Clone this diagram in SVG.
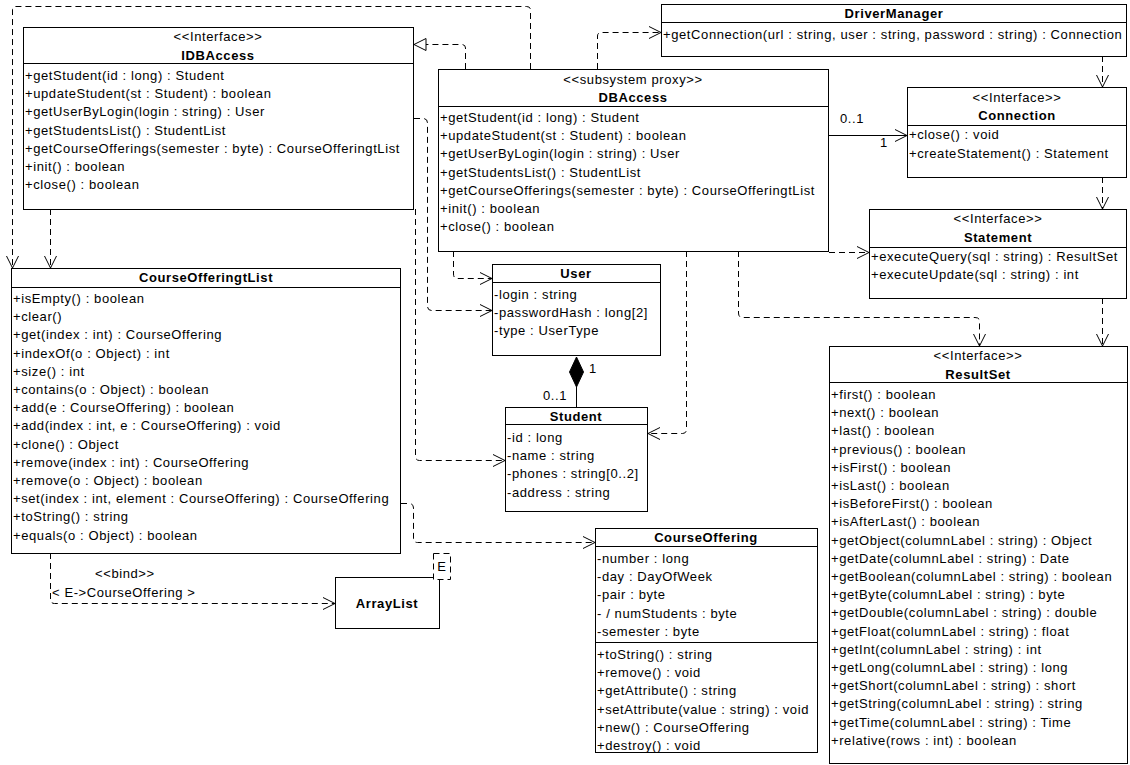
<svg xmlns="http://www.w3.org/2000/svg" width="1130" height="765" viewBox="0 0 1130 765">
<defs>
<style>
text{font-family:"Liberation Sans",Arial,sans-serif;font-size:13px;letter-spacing:0.6px;fill:#000}
.st{text-anchor:middle}
.nm{font-weight:bold;text-anchor:middle}
.box{fill:#fff;stroke:#000;stroke-width:1}
.div{stroke:#000;stroke-width:1}
.dep{fill:none;stroke:#000;stroke-width:1;stroke-dasharray:6,4}
.sol{fill:none;stroke:#000;stroke-width:1}
</style>
<marker id="open" markerUnits="userSpaceOnUse" markerWidth="16" markerHeight="16" refX="13" refY="7" orient="auto">
<path d="M1,1 L13,7 L1,13" fill="none" stroke="#000" stroke-width="1"/>
</marker>
<marker id="tri" markerUnits="userSpaceOnUse" markerWidth="16" markerHeight="16" refX="13" refY="7" orient="auto">
<path d="M1,1 L13,7 L1,13 Z" fill="#fff" stroke="#000" stroke-width="1"/>
</marker>
</defs>
<rect width="1130" height="765" fill="#fff"/>

<g id="connectors">
<path class="dep" d="M465.5,69 V48 Q465.5,44.5 461.5,44.5 H414" marker-end="url(#tri)"/>
<path class="dep" d="M530.5,69 V10 Q530.5,6.5 526.5,6.5 H16 Q12.5,6.5 12.5,10 V268" marker-end="url(#open)"/>
<path class="dep" d="M50.5,209 V268" marker-end="url(#open)"/>
<path class="dep" d="M597.5,69 V36 Q597.5,32.5 601.5,32.5 H661" marker-end="url(#open)"/>
<path class="dep" d="M1102.5,56 V87" marker-end="url(#open)"/>
<path class="dep" d="M1102.5,177 V209" marker-end="url(#open)"/>
<path class="dep" d="M1102.5,298 V346" marker-end="url(#open)"/>
<path class="sol" d="M828,135.5 H907" marker-end="url(#open)"/>
<text x="840" y="123">0..1</text>
<text x="880" y="147">1</text>
<path class="dep" d="M829,252.5 H869" marker-end="url(#open)"/>
<path class="dep" d="M738.5,251 V313 Q738.5,317.5 742.5,317.5 H975 Q979.5,317.5 979.5,321 V346" marker-end="url(#open)"/>
<path class="dep" d="M686.5,251 V429 Q686.5,433.5 682.5,433.5 H648" marker-end="url(#open)"/>
<path class="dep" d="M453.5,251 V274 Q453.5,278.5 457.5,278.5 H492" marker-end="url(#open)"/>
<path class="dep" d="M414,118.5 H423 Q427.5,118.5 427.5,123 V306 Q427.5,310.5 431.5,310.5 H492" marker-end="url(#open)"/>
<path class="dep" d="M415.5,209 V456 Q415.5,460.5 419.5,460.5 H505" marker-end="url(#open)"/>
<path class="dep" d="M401,503.5 H409 Q413.5,503.5 413.5,508 V538 Q413.5,542.5 417.5,542.5 H595" marker-end="url(#open)"/>
<path class="dep" d="M50.5,553 V599 Q50.5,603.5 54.5,603.5 H335" marker-end="url(#open)"/>
<text x="95" y="578">&lt;&lt;bind&gt;&gt;</text>
<text x="52" y="597">&lt; E-&gt;CourseOffering &gt;</text>
<line class="sol" x1="576.5" y1="387" x2="576.5" y2="407"/>
<path d="M576.5,357 L583.5,372 L576.5,387 L569.5,372 Z" fill="#000" stroke="#000"/>
<text x="589" y="373">1</text>
<text x="543" y="400">0..1</text>
</g>

<g id="IDBAccess">
<rect class="box" x="23.5" y="27.5" width="390" height="182"/>
<text class="st" x="218" y="41">&lt;&lt;Interface&gt;&gt;</text>
<text class="nm" x="218" y="60">IDBAccess</text>
<line class="div" x1="23.5" y1="63.5" x2="413.5" y2="63.5"/>
<text x="25" y="80">+getStudent(id : long) : Student</text>
<text x="25" y="98.2">+updateStudent(st : Student) : boolean</text>
<text x="25" y="116.4">+getUserByLogin(login : string) : User</text>
<text x="25" y="134.6">+getStudentsList() : StudentList</text>
<text x="25" y="152.8">+getCourseOfferings(semester : byte) : CourseOfferingtList</text>
<text x="25" y="171">+init() : boolean</text>
<text x="25" y="189.2">+close() : boolean</text>
</g>

<g id="DBAccess">
<rect class="box" x="438.5" y="69.5" width="390" height="182"/>
<text class="st" x="633" y="84">&lt;&lt;subsystem proxy&gt;&gt;</text>
<text class="nm" x="633" y="102">DBAccess</text>
<line class="div" x1="438.5" y1="106.5" x2="828.5" y2="106.5"/>
<text x="440" y="122">+getStudent(id : long) : Student</text>
<text x="440" y="140.2">+updateStudent(st : Student) : boolean</text>
<text x="440" y="158.4">+getUserByLogin(login : string) : User</text>
<text x="440" y="176.6">+getStudentsList() : StudentList</text>
<text x="440" y="194.8">+getCourseOfferings(semester : byte) : CourseOfferingtList</text>
<text x="440" y="213">+init() : boolean</text>
<text x="440" y="231.2">+close() : boolean</text>
</g>

<g id="DriverManager">
<rect class="box" x="661.5" y="4.5" width="465" height="52"/>
<text class="nm" x="894" y="18">DriverManager</text>
<line class="div" x1="661.5" y1="22.5" x2="1126.5" y2="22.5"/>
<text x="663" y="39">+getConnection(url : string, user : string, password : string) : Connection</text>
</g>

<g id="Connection">
<rect class="box" x="907.5" y="87.5" width="219" height="90"/>
<text class="st" x="1017" y="102">&lt;&lt;Interface&gt;&gt;</text>
<text class="nm" x="1017" y="120">Connection</text>
<line class="div" x1="907.5" y1="125.5" x2="1126.5" y2="125.5"/>
<text x="909" y="139">+close() : void</text>
<text x="909" y="158">+createStatement() : Statement</text>
</g>

<g id="Statement">
<rect class="box" x="869.5" y="209.5" width="257" height="89"/>
<text class="st" x="998" y="223">&lt;&lt;Interface&gt;&gt;</text>
<text class="nm" x="998" y="242">Statement</text>
<line class="div" x1="869.5" y1="247.5" x2="1126.5" y2="247.5"/>
<text x="871" y="261">+executeQuery(sql : string) : ResultSet</text>
<text x="871" y="279">+executeUpdate(sql : string) : int</text>
</g>

<g id="ResultSet">
<rect class="box" x="829.5" y="346.5" width="298" height="417"/>
<text class="st" x="978" y="360">&lt;&lt;Interface&gt;&gt;</text>
<text class="nm" x="978" y="379">ResultSet</text>
<line class="div" x1="829.5" y1="382.5" x2="1127.5" y2="382.5"/>
<text x="831" y="399">+first() : boolean</text>
<text x="831" y="417.2">+next() : boolean</text>
<text x="831" y="435.4">+last() : boolean</text>
<text x="831" y="453.6">+previous() : boolean</text>
<text x="831" y="471.8">+isFirst() : boolean</text>
<text x="831" y="490">+isLast() : boolean</text>
<text x="831" y="508.2">+isBeforeFirst() : boolean</text>
<text x="831" y="526.4">+isAfterLast() : boolean</text>
<text x="831" y="544.6">+getObject(columnLabel : string) : Object</text>
<text x="831" y="562.8">+getDate(columnLabel : string) : Date</text>
<text x="831" y="581">+getBoolean(columnLabel : string) : boolean</text>
<text x="831" y="599.2">+getByte(columnLabel : string) : byte</text>
<text x="831" y="617.4">+getDouble(columnLabel : string) : double</text>
<text x="831" y="635.6">+getFloat(columnLabel : string) : float</text>
<text x="831" y="653.8">+getInt(columnLabel : string) : int</text>
<text x="831" y="672">+getLong(columnLabel : string) : long</text>
<text x="831" y="690.2">+getShort(columnLabel : string) : short</text>
<text x="831" y="708.4">+getString(columnLabel : string) : string</text>
<text x="831" y="726.6">+getTime(columnLabel : string) : Time</text>
<text x="831" y="744.8">+relative(rows : int) : boolean</text>
</g>

<g id="CourseOfferingtList">
<rect class="box" x="11.5" y="268.5" width="389" height="285"/>
<text class="nm" x="206" y="282">CourseOfferingtList</text>
<line class="div" x1="11.5" y1="287.5" x2="400.5" y2="287.5"/>
<text x="13" y="303">+isEmpty() : boolean</text>
<text x="13" y="321.2">+clear()</text>
<text x="13" y="339.4">+get(index : int) : CourseOffering</text>
<text x="13" y="357.6">+indexOf(o : Object) : int</text>
<text x="13" y="375.8">+size() : int</text>
<text x="13" y="394">+contains(o : Object) : boolean</text>
<text x="13" y="412.2">+add(e : CourseOffering) : boolean</text>
<text x="13" y="430.4">+add(index : int, e : CourseOffering) : void</text>
<text x="13" y="448.6">+clone() : Object</text>
<text x="13" y="466.8">+remove(index : int) : CourseOffering</text>
<text x="13" y="485">+remove(o : Object) : boolean</text>
<text x="13" y="503.2">+set(index : int, element : CourseOffering) : CourseOffering</text>
<text x="13" y="521.4">+toString() : string</text>
<text x="13" y="539.6">+equals(o : Object) : boolean</text>
</g>

<g id="User">
<rect class="box" x="492.5" y="264.5" width="168" height="91"/>
<text class="nm" x="576" y="278">User</text>
<line class="div" x1="492.5" y1="282.5" x2="660.5" y2="282.5"/>
<text x="494" y="299">-login : string</text>
<text x="494" y="317">-passwordHash : long[2]</text>
<text x="494" y="335">-type : UserType</text>
</g>

<g id="Student">
<rect class="box" x="505.5" y="407.5" width="142" height="104"/>
<text class="nm" x="576" y="421">Student</text>
<line class="div" x1="505.5" y1="424.5" x2="647.5" y2="424.5"/>
<text x="507" y="442">-id : long</text>
<text x="507" y="460.2">-name : string</text>
<text x="507" y="478.4">-phones : string[0..2]</text>
<text x="507" y="496.6">-address : string</text>
</g>

<g id="CourseOffering">
<rect class="box" x="595.5" y="528.5" width="222" height="224"/>
<text class="nm" x="706" y="542">CourseOffering</text>
<line class="div" x1="595.5" y1="546.5" x2="817.5" y2="546.5"/>
<text x="597" y="563">-number : long</text>
<text x="597" y="581.2">-day : DayOfWeek</text>
<text x="597" y="599.4">-pair : byte</text>
<text x="597" y="617.6">- / numStudents : byte</text>
<text x="597" y="635.8">-semester : byte</text>
<line class="div" x1="595.5" y1="642.5" x2="817.5" y2="642.5"/>
<text x="597" y="659">+toString() : string</text>
<text x="597" y="677.2">+remove() : void</text>
<text x="597" y="695.4">+getAttribute() : string</text>
<text x="597" y="713.6">+setAttribute(value : string) : void</text>
<text x="597" y="731.8">+new() : CourseOffering</text>
<text x="597" y="750">+destroy() : void</text>
</g>

<g id="ArrayList">
<rect class="box" x="335.5" y="577.5" width="104" height="51"/>
<text class="nm" x="387" y="608">ArrayList</text>
<rect x="433.5" y="553.5" width="17" height="26" fill="#fff" stroke="#000" stroke-dasharray="6,4"/>
<text x="442" y="571" style="text-anchor:middle">E</text>
</g>
</svg>
